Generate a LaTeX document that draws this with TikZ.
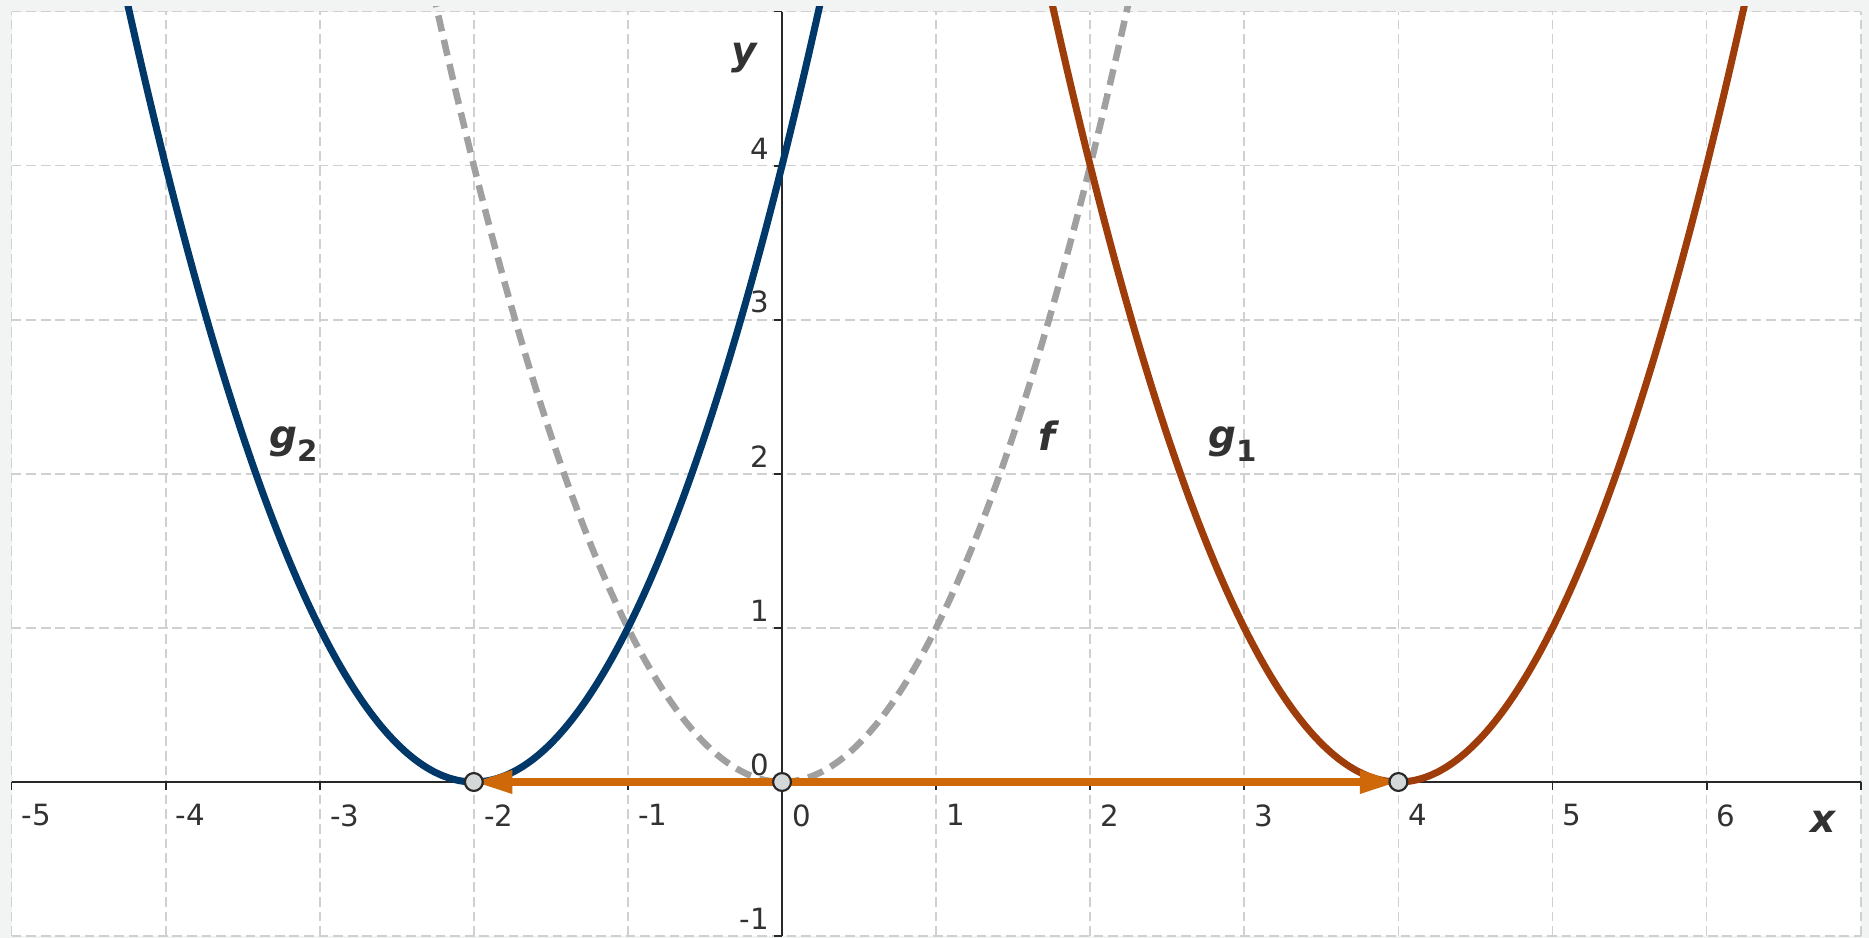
\documentclass[tikz,border=0pt]{standalone}
\usepackage{fontspec}
\setmainfont{DejaVu Sans}[ItalicFont={DejaVu Sans Oblique},BoldFont={DejaVu Sans Bold},BoldItalicFont={DejaVu Sans Bold Oblique}]
\usetikzlibrary{arrows.meta}
\definecolor{bggray}{RGB}{242,244,244}
\definecolor{gridgray}{RGB}{208,208,208}
\definecolor{axisgray}{RGB}{40,40,40}
\definecolor{labelgray}{RGB}{50,50,50}
\definecolor{fgray}{RGB}{160,160,160}
\definecolor{gOne}{RGB}{158,60,10}
\definecolor{gTwo}{RGB}{0,56,105}
\definecolor{vecorange}{RGB}{206,104,8}
\definecolor{ptfill}{RGB}{212,216,216}
\newcommand{\fsub}[1]{\raisebox{-2.5pt}{\fontsize{5.4}{5}\selectfont\upshape #1}}

\begin{document}
\begin{tikzpicture}[x=1cm,y=1cm,
  font=\fontsize{5.4}{6}\selectfont,
  gridline/.style={draw=gridgray,line width=0.32pt,dash pattern=on 1.8pt off 0.9pt},
  axis/.style={draw=axisgray,line width=0.35pt},
  curve/.style={line width=1.3pt},
  vec/.style={draw=vecorange,line width=1.4pt,-{Triangle[length=0.25cm,width=0.14cm]}},
  pt/.style={circle,draw=axisgray,fill=ptfill,line width=0.4pt,inner sep=0pt,minimum size=0.116cm},
  xtick/.style={anchor=north west,inner sep=0pt,text=labelgray},
  ytick/.style={anchor=south east,inner sep=0pt,text=labelgray},
  fname/.style={font=\fontsize{7.2}{8}\selectfont\bfseries\itshape,text=labelgray,inner sep=0pt}]
% frame and grid
\fill[bggray] (-5.075,-1.012) rectangle (7.054,5.075);
\useasboundingbox (-5.075,-1.012) rectangle (7.054,5.075);
\fill[white] (-5,-1) rectangle (7,5);
\foreach \i in {-5,...,7} \draw[gridline] (\i,-1) -- (\i,5);
\foreach \j in {-1,...,5} \draw[gridline] (-5,\j) -- (7,\j);
% axes
\draw[axis] (-5,0) -- (7,0);
\draw[axis] (0,-1) -- (0,5);
\foreach \i in {-5,...,7} \draw[axis] (\i,0) -- (\i,-0.05);
\foreach \j in {-1,...,5} \draw[axis] (0,\j) -- (-0.05,\j);
\foreach \i in {-5,...,6} \node[xtick] (xl\i) at (\i+0.06,-0.14) {\i};
\foreach \j in {-1,...,4} \node[ytick] (yl\j) at (-0.08,\j+0.035) {\j};
% parabolas
\begin{scope}
\clip (-5.075,-1.012) rectangle (7.054,5.03);
\draw[curve,fgray,line width=1.2pt,dash pattern=on 3pt off 1.6pt] plot[domain=-2.3:2.3,samples=80,smooth] (\x,{\x*\x});
\draw[curve,gOne] plot[domain=1.7:6.3,samples=80,smooth] (\x,{(\x-4)^2});
\draw[curve,gTwo] plot[domain=-4.3:0.3,samples=80,smooth] (\x,{(\x+2)^2});
\end{scope}
% shift vectors
\coordinate (O) at (0,0);
\coordinate (A) at (4,0);
\coordinate (B) at (-2,0);
\draw[vec] (O) -- (A);
\draw[vec] (O) -- (B);
\node[pt] (pO) at (O) {};
\node[pt] (pA) at (A) {};
\node[pt] (pB) at (B) {};
% labels
\node[fname,anchor=base west] (lg2) at (-3.335,2.167) {g\fsub{2}};
\node[fname,anchor=base west] (lg1) at (2.758,2.167) {g\fsub{1}};
\node[fname] (lf) at (1.72,2.25) {f};
\node[fname] (lx) at (6.755,-0.26) {x};
\node[fname] (ly) at (-0.245,4.70) {y};
\end{tikzpicture}
\end{document}
